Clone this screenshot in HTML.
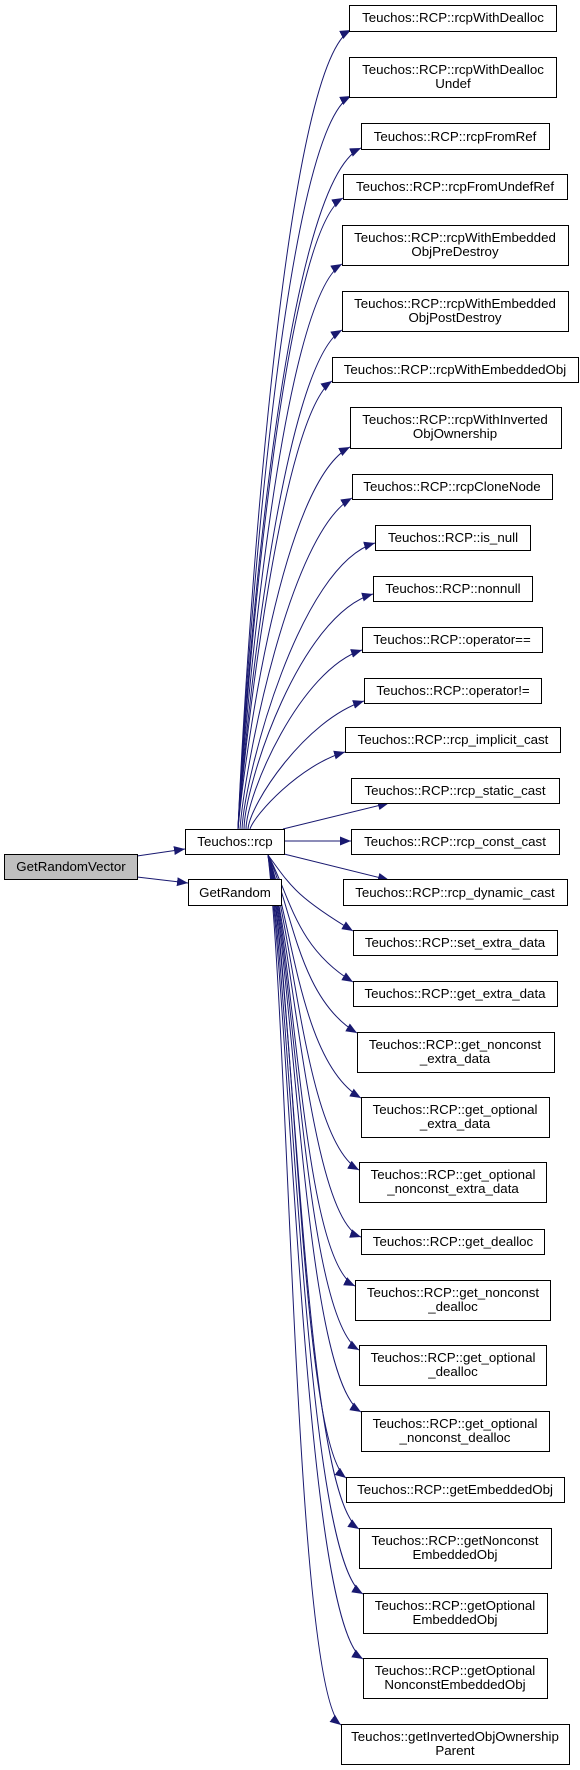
<!DOCTYPE html>
<html><head><meta charset="utf-8"><style>
html,body{margin:0;padding:0;background:#fff;width:580px;height:1770px;overflow:hidden}
svg text{font-family:"Liberation Sans",Arial,sans-serif;font-size:13.3px;fill:#000;text-anchor:middle}
</style></head><body>
<svg width="580" height="1770" viewBox="0 0 580 1770" xmlns="http://www.w3.org/2000/svg">
<defs><marker id="a" markerUnits="userSpaceOnUse" markerWidth="12" markerHeight="10" refX="11" refY="4.5" orient="auto"><path d="M0,0 L11,4.5 L0,9 z" fill="#191970"/></marker></defs>
<g fill="none" stroke="#191970" stroke-width="1" marker-end="url(#a)">
<path d="M238,829 C245,669 282,65 351,30"/>
<path d="M238,829 C245,682 282,131 351,96"/>
<path d="M238,829 C245,693 282,183 361,148"/>
<path d="M238,829 C245,703 282,233 343,198"/>
<path d="M238,829 C245,716 282,299 342,264"/>
<path d="M238,829 C245,729 282,365 342,330"/>
<path d="M238,829 C245,739 282,416 332,381"/>
<path d="M238,829 C245,753 282,482 350,447"/>
<path d="M240,829 C245,763 290,533 352,498"/>
<path d="M242,829 C245,773 300,565 375,543"/>
<path d="M244,829 C245,783 300,615 373,594"/>
<path d="M246,829 C247,793 300,670 362,650"/>
<path d="M248,829 C250,804 305,720 364,701"/>
<path d="M250,829 C255,814 300,765 345,752"/>
<path d="M283,829 L389,803"/>
<path d="M284,841 L351,841"/>
<path d="M284,854 L389,880"/>
<path d="M137,856 L185,849"/>
<path d="M137,877 L188,883"/>
<path d="M268,855 C290,885 295,896 353,931"/>
<path d="M268,855 C290,895 295,947 353,982"/>
<path d="M268,855 C292,906 298,998 357,1033"/>
<path d="M268,855 C292,919 300,1063 361,1098"/>
<path d="M268,855 C294,932 305,1140 359,1170"/>
<path d="M268,855 C294,945 310,1220 361,1237"/>
<path d="M268,855 C296,955 302,1260 355,1286"/>
<path d="M268,855 C296,968 304,1318 359,1350"/>
<path d="M268,855 C296,981 304,1377 361,1412"/>
<path d="M268,855 C296,995 300,1443 346,1478"/>
<path d="M268,855 C296,1005 304,1494 359,1529"/>
<path d="M268,855 C294,1018 304,1559 363,1594"/>
<path d="M268,855 C292,1031 304,1624 363,1659"/>
<path d="M268,855 C290,1044 295,1690 341,1725"/>
</g>
<g stroke="#000" stroke-width="1" fill="#fff">
<rect x="4.5" y="854.5" width="133" height="25" fill="#bfbfbf"/>
<rect x="185.5" y="829.5" width="99" height="25"/>
<rect x="188.5" y="879.5" width="93" height="26"/>
<rect x="349.5" y="5.5" width="207" height="26"/>
<rect x="349.5" y="57.5" width="207" height="40"/>
<rect x="361.5" y="123.5" width="188" height="26"/>
<rect x="343.5" y="174.5" width="224" height="25"/>
<rect x="342.5" y="225.5" width="226" height="40"/>
<rect x="342.5" y="291.5" width="226" height="40"/>
<rect x="332.5" y="357.5" width="246" height="25"/>
<rect x="350.5" y="407.5" width="211" height="41"/>
<rect x="352.5" y="474.5" width="200" height="25"/>
<rect x="375.5" y="525.5" width="155" height="25"/>
<rect x="373.5" y="576.5" width="159" height="25"/>
<rect x="362.5" y="627.5" width="180" height="25"/>
<rect x="364.5" y="678.5" width="177" height="25"/>
<rect x="345.5" y="727.5" width="215" height="25"/>
<rect x="351.5" y="778.5" width="208" height="25"/>
<rect x="351.5" y="829.5" width="208" height="25"/>
<rect x="343.5" y="879.5" width="224" height="26"/>
<rect x="353.5" y="930.5" width="204" height="25"/>
<rect x="353.5" y="981.5" width="204" height="25"/>
<rect x="357.5" y="1032.5" width="197" height="40"/>
<rect x="361.5" y="1097.5" width="188" height="40"/>
<rect x="359.5" y="1162.5" width="187" height="40"/>
<rect x="361.5" y="1229.5" width="183" height="25"/>
<rect x="355.5" y="1280.5" width="195" height="40"/>
<rect x="359.5" y="1345.5" width="187" height="40"/>
<rect x="361.5" y="1411.5" width="188" height="40"/>
<rect x="346.5" y="1477.5" width="218" height="25"/>
<rect x="359.5" y="1528.5" width="192" height="40"/>
<rect x="363.5" y="1593.5" width="184" height="40"/>
<rect x="363.5" y="1658.5" width="184" height="40"/>
<rect x="341.5" y="1724.5" width="228" height="40"/>
</g>
<g>
<text x="71" y="871">GetRandomVector</text>
<text x="235" y="846">Teuchos::rcp</text>
<text x="235" y="897">GetRandom</text>
<text x="453" y="22">Teuchos::RCP::rcpWithDealloc</text>
<text x="453" y="74">Teuchos::RCP::rcpWithDealloc</text><text x="453" y="88">Undef</text>
<text x="455" y="141">Teuchos::RCP::rcpFromRef</text>
<text x="455" y="191">Teuchos::RCP::rcpFromUndefRef</text>
<text x="455" y="242">Teuchos::RCP::rcpWithEmbedded</text><text x="455" y="256">ObjPreDestroy</text>
<text x="455" y="308">Teuchos::RCP::rcpWithEmbedded</text><text x="455" y="322">ObjPostDestroy</text>
<text x="455" y="374">Teuchos::RCP::rcpWithEmbeddedObj</text>
<text x="455" y="424">Teuchos::RCP::rcpWithInverted</text><text x="455" y="438">ObjOwnership</text>
<text x="452" y="491">Teuchos::RCP::rcpCloneNode</text>
<text x="453" y="542">Teuchos::RCP::is_null</text>
<text x="453" y="593">Teuchos::RCP::nonnull</text>
<text x="452" y="644">Teuchos::RCP::operator==</text>
<text x="453" y="695">Teuchos::RCP::operator!=</text>
<text x="453" y="744">Teuchos::RCP::rcp_implicit_cast</text>
<text x="455" y="795">Teuchos::RCP::rcp_static_cast</text>
<text x="455" y="846">Teuchos::RCP::rcp_const_cast</text>
<text x="455" y="897">Teuchos::RCP::rcp_dynamic_cast</text>
<text x="455" y="947">Teuchos::RCP::set_extra_data</text>
<text x="455" y="998">Teuchos::RCP::get_extra_data</text>
<text x="455" y="1049">Teuchos::RCP::get_nonconst</text><text x="455" y="1063">_extra_data</text>
<text x="455" y="1114">Teuchos::RCP::get_optional</text><text x="455" y="1128">_extra_data</text>
<text x="453" y="1179">Teuchos::RCP::get_optional</text><text x="453" y="1193">_nonconst_extra_data</text>
<text x="453" y="1246">Teuchos::RCP::get_dealloc</text>
<text x="453" y="1297">Teuchos::RCP::get_nonconst</text><text x="453" y="1311">_dealloc</text>
<text x="453" y="1362">Teuchos::RCP::get_optional</text><text x="453" y="1376">_dealloc</text>
<text x="455" y="1428">Teuchos::RCP::get_optional</text><text x="455" y="1442">_nonconst_dealloc</text>
<text x="455" y="1494">Teuchos::RCP::getEmbeddedObj</text>
<text x="455" y="1545">Teuchos::RCP::getNonconst</text><text x="455" y="1559">EmbeddedObj</text>
<text x="455" y="1610">Teuchos::RCP::getOptional</text><text x="455" y="1624">EmbeddedObj</text>
<text x="455" y="1675">Teuchos::RCP::getOptional</text><text x="455" y="1689">NonconstEmbeddedObj</text>
<text x="455" y="1741">Teuchos::getInvertedObjOwnership</text><text x="455" y="1755">Parent</text>
</g>
</svg>
</body></html>
